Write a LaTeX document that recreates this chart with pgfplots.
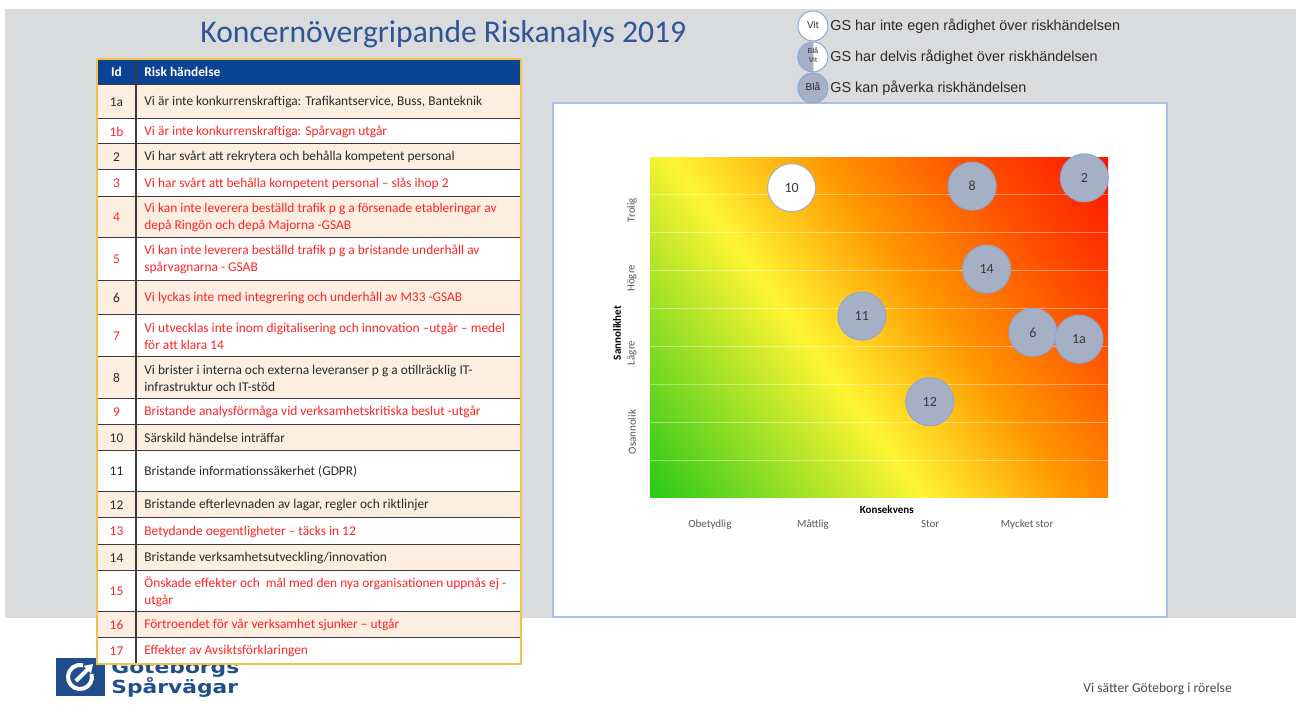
\documentclass[border=0pt]{standalone}
\usepackage{pgfplots}
\pgfplotsset{compat=1.18}
\usepackage{graphicx}
\usepackage{fontspec}
\setmainfont{Carlito}
\newfontfamily\arial{Liberation Sans}
\newfontfamily\logof{DejaVu Sans}
\usetikzlibrary{arrows.meta}
\definecolor{slidegray}{HTML}{DADBDD}
\definecolor{titleblue}{HTML}{2F5597}
\definecolor{hdrblue}{HTML}{0B4394}
\definecolor{peach}{HTML}{FCEEE0}
\definecolor{tabgold}{HTML}{F3C24B}
\definecolor{rowline}{HTML}{3C3C3C}
\definecolor{tred}{HTML}{FF2424}
\definecolor{tblack}{HTML}{2A2A2A}
\definecolor{boxedge}{HTML}{ADBEE0}
\definecolor{bubfill}{HTML}{A6B0C5}
\definecolor{bubedge}{HTML}{8CA6D8}
\definecolor{bubwedge}{HTML}{A3AEC2}
\definecolor{bubtext}{HTML}{3A3A3A}
\definecolor{logoblue}{HTML}{1F4E8D}
\definecolor{labgray}{HTML}{595959}
\definecolor{rgrn}{RGB}{40,200,25}
\definecolor{ryel}{RGB}{255,245,50}
\definecolor{rorg}{RGB}{255,150,0}
\definecolor{rorr}{RGB}{255,80,0}
\definecolor{rred}{RGB}{255,20,0}
\pgfdeclarehorizontalshading{riskgrad}{100bp}{color(0bp)=(rgrn); color(15bp)=(rgrn); color(42bp)=(ryel); color(57bp)=(rorg); color(71bp)=(rorr); color(85bp)=(rred); color(100bp)=(rred)}
\newcommand\tabfont{\fontsize{6.7}{8.5}\selectfont}
\newcommand\trow[7]{%
  \fill[#3] (97,#1) rectangle (521,#2);
  \node[font=\tabfont, text=#4, inner sep=0pt] at (116.5,{(#1+#2)/2}) {#6};
  \node[font=\tabfont, text=#5, anchor=west, align=left, inner sep=0pt] at (144,{(#1+#2)/2}) {#7};
  \draw[rowline, line width=0.8pt] (97,#2) -- (521,#2);
}
\begin{document}
\begin{tikzpicture}
\begin{scope}[x=0.5pt,y=-0.5pt]
\useasboundingbox (0,0) rectangle (1300,726);
\fill[white] (0,0) rectangle (1300,726);
\fill[slidegray] (5,9) rectangle (1296,618);
% title
\node[font=\fontsize{15.8}{18}\selectfont, text=titleblue, anchor=west, inner sep=0pt] at (200,34) {Koncernövergripande Riskanalys 2019};
% logo
\fill[logoblue] (56,658) rectangle (105,696);
\draw[white, line width=2pt] (80,677) ++(-15:12) arc[start angle=-15, end angle=285, radius=12];
\draw[white, line width=2pt, -{Triangle[length=4pt,width=5pt]}] (76,681) -- (93,664);
\node[anchor=west, inner sep=0pt, text=logoblue, font=\logof\bfseries\fontsize{9}{9}\selectfont] at (111,668) {\scalebox{1.21}[1]{Göteborgs}};
\node[anchor=west, inner sep=0pt, text=logoblue, font=\logof\bfseries\fontsize{9}{9}\selectfont] at (111,687) {\scalebox{1.21}[1]{Spårvägar}};
% footer
\node[font=\fontsize{6.8}{8}\selectfont, text=tblack!85, anchor=west, inner sep=0pt] at (1083,689) {Vi sätter Göteborg i rörelse};
% table
\fill[hdrblue] (97,59) rectangle (521,85);
\node[font=\bfseries\tabfont, text=white, inner sep=0pt] at (116.5,72) {Id};
\node[font=\bfseries\tabfont, text=white, anchor=west, inner sep=0pt] at (144,72) {Risk händelse};
\draw[rowline, line width=0.8pt] (97,85) -- (521,85);
\trow{85}{119}{peach}{tblack}{tblack}{1a}{Vi är inte konkurrenskraftiga: Trafikantservice, Buss, Banteknik}
\trow{119}{144}{white}{tred}{tred}{1b}{Vi är inte konkurrenskraftiga: Spårvagn utgår}
\trow{144}{170}{peach}{tblack}{tblack}{2}{Vi har svårt att rekrytera och behålla kompetent personal}
\trow{170}{197}{white}{tred}{tred}{3}{Vi har svårt att behålla kompetent personal – slås ihop 2}
\trow{197}{238}{peach}{tred}{tred}{4}{Vi kan inte leverera beställd trafik p g a försenade etableringar av\\depå Ringön och depå Majorna -GSAB}
\trow{238}{281}{white}{tred}{tred}{5}{Vi kan inte leverera beställd trafik p g a bristande underhåll av\\spårvagnarna - GSAB}
\trow{281}{315}{peach}{tblack}{tred}{6}{Vi lyckas inte med integrering och underhåll av M33 -GSAB}
\trow{315}{357}{white}{tred}{tred}{7}{Vi utvecklas inte inom digitalisering och innovation –utgår – medel\\för att klara 14}
\trow{357}{399}{peach}{tblack}{tblack}{8}{Vi brister i interna och externa leveranser p g a otillräcklig IT-\\infrastruktur och IT-stöd}
\trow{399}{425}{white}{tred}{tred}{9}{Bristande analysförmåga vid verksamhetskritiska beslut -utgår}
\trow{425}{451}{peach}{tblack}{tblack}{10}{Särskild händelse inträffar}
\trow{451}{492}{white}{tblack}{tblack}{11}{Bristande informationssäkerhet (GDPR)}
\trow{492}{518}{peach}{tblack}{tblack}{12}{Bristande efterlevnaden av lagar, regler och riktlinjer}
\trow{518}{545}{white}{tred}{tred}{13}{Betydande oegentligheter – täcks in 12}
\trow{545}{571}{peach}{tblack}{tblack}{14}{Bristande verksamhetsutveckling/innovation}
\trow{571}{612}{white}{tred}{tred}{15}{Önskade effekter och \ mål med den nya organisationen uppnås ej -\\utgår}
\trow{612}{638}{peach}{tred}{tred}{16}{Förtroendet för vår verksamhet sjunker – utgår}
\trow{638}{664}{white}{tred}{tred}{17}{Effekter av Avsiktsförklaringen}
\draw[rowline, line width=0.8pt] (136,59) -- (136,664);
\draw[tabgold, line width=0.8pt] (97,59) rectangle (521,664);
% chart box
\draw[boxedge, line width=0.8pt, fill=white] (553,103) rectangle (1167,617);
\end{scope}
\begin{axis}[
  at={(325pt,-249pt)}, anchor=south west,
  scale only axis, width=229pt, height=170.5pt,
  xmin=0, xmax=12, ymin=0, ymax=9,
  clip=false,
  axis line style={draw=none},
  major tick length=0pt,
  axis background/.style={shade, shading=riskgrad, shading angle=36.7},
  xtick={1.57,4.27,7.34,9.88},
  xticklabels={Obetydlig,Måttlig,Stor,Mycket stor},
  ytick={1.74,3.83,5.8,7.6},
  yticklabels={Osannolik,Lägre,Högre,Trolig},
  extra y ticks={1,2,3,4,5,6,7,8},
  extra y tick labels={},
  extra y tick style={grid=major},
  major grid style={draw=white, draw opacity=0.4, line width=0.5pt},
  tick label style={font=\fontsize{5.5}{6}\selectfont, text=labgray},
  xticklabel style={anchor=base, yshift=-14.5pt},
  yticklabel style={rotate=90, anchor=center, yshift=9pt},
  xlabel={Konsekvens}, ylabel={Sannolikhet},
  label style={font=\bfseries\fontsize{5.5}{6}\selectfont, text=black},
  xlabel style={at={(axis description cs:0.517,0)}, anchor=center, yshift=-6pt},
  ylabel style={at={(axis description cs:-0.072,0.484)}, anchor=center},
  legend style={at={(axis description cs:0.321,1.431)}, anchor=north west, draw=none, fill=none, inner sep=0pt, row sep=0pt, font=\arial\fontsize{7.2}{8}\selectfont, text=tblack, nodes={inner xsep=1pt}},
  legend cell align=left,
]
\addlegendimage{legend image code/.code={\draw[fill=white, draw=bubedge, line width=0.5pt] (7.5pt,0pt) circle[radius=7.5pt]; \node[anchor=center, inner sep=0pt, font=\arial\fontsize{5}{5}\selectfont, text=tblack] at (7.5pt,0pt) {Vit};}}
\addlegendentry{GS har inte egen rådighet över riskhändelsen}
\addlegendimage{legend image code/.code={\fill[white] (7.5pt,0pt) circle[radius=7.5pt]; \fill[bubfill] (7.5pt,7.5pt) arc[start angle=90, end angle=270, radius=7.5pt] -- cycle; \draw[bubedge, line width=0.5pt] (7.5pt,0pt) circle[radius=7.5pt]; \node[anchor=center, inner sep=0pt, font=\arial\fontsize{3.6}{4}\selectfont, text=tblack] at (7.5pt,2.2pt) {Blå}; \node[anchor=center, inner sep=0pt, font=\arial\fontsize{3.6}{4}\selectfont, text=tblack] at (7.5pt,-2.2pt) {Vit};}}
\addlegendentry{GS har delvis rådighet över riskhändelsen}
\addlegendimage{legend image code/.code={\draw[fill=bubfill, draw=bubedge, line width=0.5pt] (7.5pt,0pt) circle[radius=7.5pt]; \node[anchor=center, inner sep=0pt, font=\arial\fontsize{5}{5}\selectfont, text=tblack] at (7.5pt,0pt) {Blå};}}
\addlegendentry{GS kan påverka riskhändelsen}
\addplot[only marks, mark=*, mark size=12pt, mark options={fill=white, draw=bubwedge, line width=0.5pt},
  point meta=explicit symbolic, nodes near coords, nodes near coords align={center},
  every node near coord/.append style={font=\fontsize{7}{7}\selectfont, text=bubtext}, forget plot]
  table[meta=lab] {
x y lab
3.71 8.19 10
};
\addplot[only marks, mark=*, mark size=12pt, mark options={fill=bubfill, draw=bubedge, line width=0.5pt},
  point meta=explicit symbolic, nodes near coords, nodes near coords align={center},
  every node near coord/.append style={font=\fontsize{7}{7}\selectfont, text=bubtext}, forget plot]
  table[meta=lab] {
x y lab
8.44 8.23 8
11.38 8.45 2
8.82 6.04 14
5.55 4.80 11
7.33 2.54 12
10.03 4.37 6
11.24 4.19 1a
};
\end{axis}
\end{tikzpicture}
\end{document}
